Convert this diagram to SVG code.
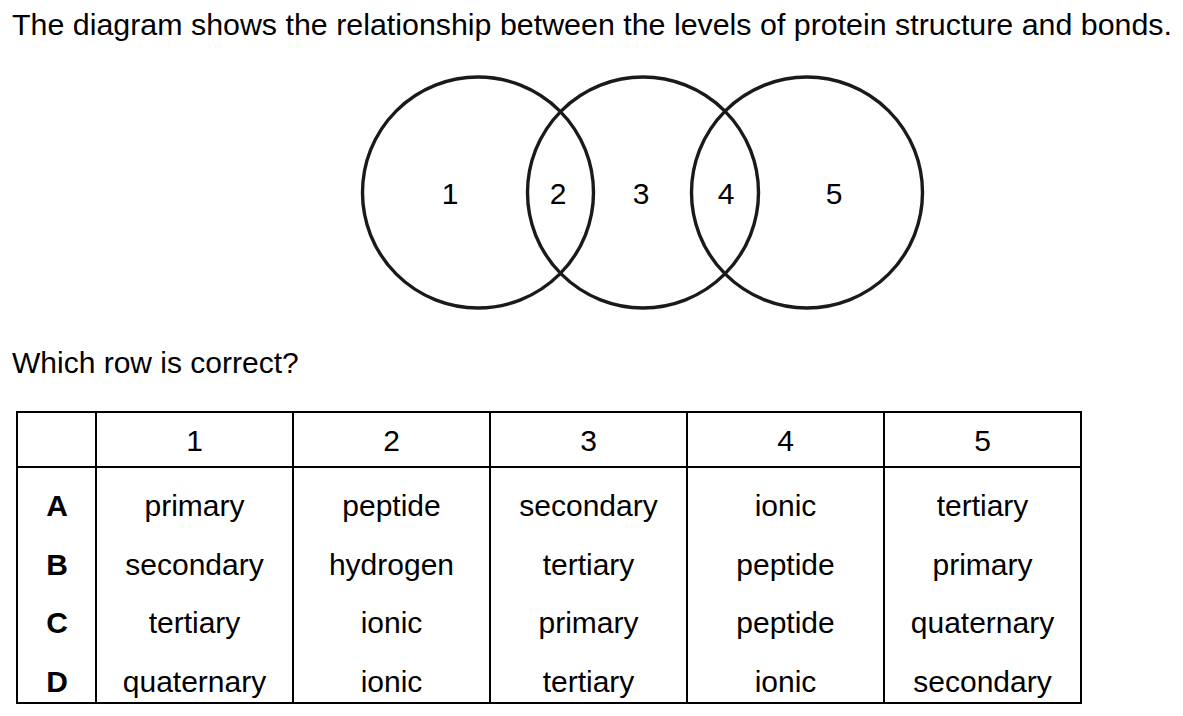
<svg xmlns="http://www.w3.org/2000/svg" width="1183" height="716" viewBox="0 0 1183 716">
<style>
text{font-family:"Liberation Sans",Arial,sans-serif;font-size:30px;fill:#000}
.c{text-anchor:middle}
.b{font-weight:bold}
.ring{fill:none;stroke:#1a1a1a;stroke-width:3.4}
.grid{stroke:#000;stroke-width:2;fill:none}
</style>
<rect width="1183" height="716" fill="#fff"/>
<text x="12" y="35" textLength="1160" lengthAdjust="spacingAndGlyphs" style="font-size:30.4px">The diagram shows the relationship between the levels of protein structure and bonds.</text>
<g id="venn">
<g id="circle1"><circle class="ring" cx="478" cy="192.5" r="115.5"/></g>
<g id="circle2"><circle class="ring" cx="643" cy="192.5" r="115.5"/></g>
<g id="circle3"><circle class="ring" cx="807" cy="192.5" r="115.5"/></g>
<g id="labels">
<text class="c" x="450" y="204">1</text>
<text class="c" x="558" y="204">2</text>
<text class="c" x="641" y="204">3</text>
<text class="c" x="726" y="204">4</text>
<text class="c" x="834" y="204">5</text>
</g>
</g>
<text x="12" y="373">Which row is correct?</text>
<g id="table">
<rect class="grid" x="17" y="412" width="1064" height="291"/>
<line class="grid" x1="17" y1="467" x2="1081" y2="467"/>
<line class="grid" x1="96" y1="412" x2="96" y2="703"/>
<line class="grid" x1="293" y1="412" x2="293" y2="703"/>
<line class="grid" x1="490" y1="412" x2="490" y2="703"/>
<line class="grid" x1="687" y1="412" x2="687" y2="703"/>
<line class="grid" x1="884" y1="412" x2="884" y2="703"/>
<g class="c">
<text class="c" x="194.5" y="451">1</text>
<text class="c" x="391.5" y="451">2</text>
<text class="c" x="588.5" y="451">3</text>
<text class="c" x="785.5" y="451">4</text>
<text class="c" x="982.5" y="451">5</text>

<text class="c b" x="57" y="516">A</text>
<text class="c" x="194.5" y="516">primary</text>
<text class="c" x="391.5" y="516">peptide</text>
<text class="c" x="588.5" y="516">secondary</text>
<text class="c" x="785.5" y="516">ionic</text>
<text class="c" x="982.5" y="516">tertiary</text>

<text class="c b" x="57" y="575">B</text>
<text class="c" x="194.5" y="575">secondary</text>
<text class="c" x="391.5" y="575">hydrogen</text>
<text class="c" x="588.5" y="575">tertiary</text>
<text class="c" x="785.5" y="575">peptide</text>
<text class="c" x="982.5" y="575">primary</text>

<text class="c b" x="57" y="633">C</text>
<text class="c" x="194.5" y="633">tertiary</text>
<text class="c" x="391.5" y="633">ionic</text>
<text class="c" x="588.5" y="633">primary</text>
<text class="c" x="785.5" y="633">peptide</text>
<text class="c" x="982.5" y="633">quaternary</text>

<text class="c b" x="57" y="692">D</text>
<text class="c" x="194.5" y="692">quaternary</text>
<text class="c" x="391.5" y="692">ionic</text>
<text class="c" x="588.5" y="692">tertiary</text>
<text class="c" x="785.5" y="692">ionic</text>
<text class="c" x="982.5" y="692">secondary</text>
</g>
</g>
</svg>
